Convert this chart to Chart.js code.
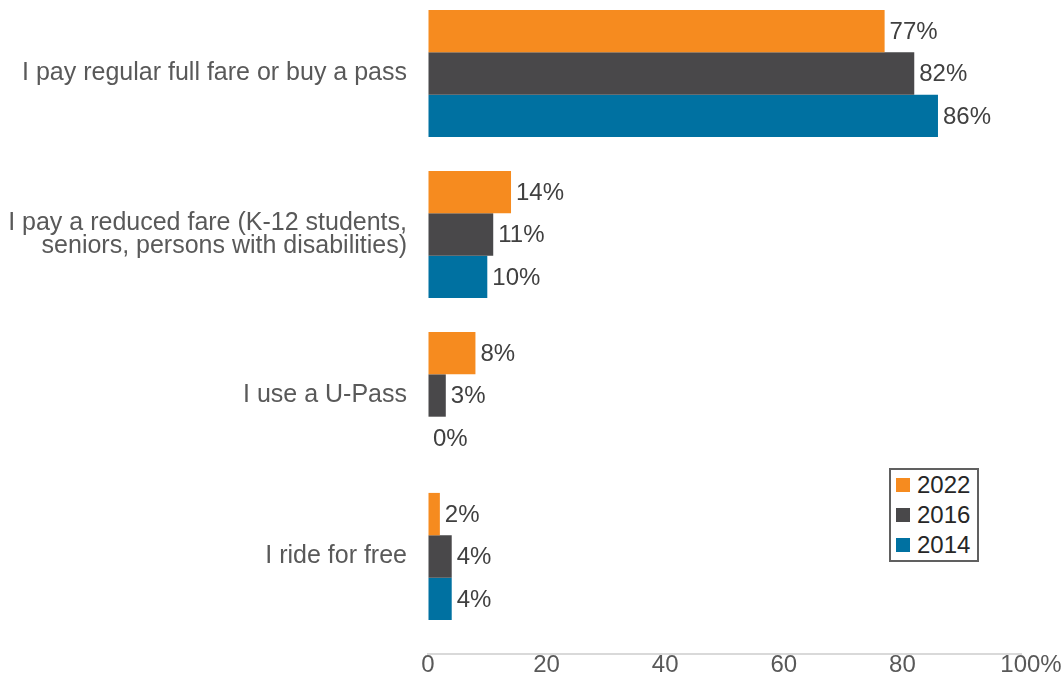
<!DOCTYPE html>
<html>
<head>
<meta charset="utf-8">
<script src="https://cdn.jsdelivr.net/npm/chart.js@4"></script>
<style>
  html, body { margin: 0; padding: 0; background: #fff; }
  #wrap { position: relative; width: 1064px; height: 687px; }
  #legend { position: absolute; left: 889px; top: 468px; width: 86px; height: 90px;
    border: 2px solid #606060; background: #fff; font-family: "Liberation Sans", Arial, sans-serif;
    font-size: 24px; color: #262626; }
  .row { height: 30px; display: flex; align-items: center; padding-left: 5px; }
  .sw { width: 14px; height: 14px; margin-right: 7px; }
</style>
</head>
<body>
<div id="wrap">
  <canvas id="c" width="1064" height="687"></canvas>
  <div id="legend"></div>
</div>
<script>
const categories = [
  'I pay regular full fare or buy a pass',
  ['I pay a reduced fare (K-12 students,', 'seniors, persons with disabilities)'],
  'I use a U-Pass',
  'I ride for free'
];
const seriesNames = ['2022', '2016', '2014'];
const values2022 = [77, 14, 8, 2];
const values2016 = [82, 11, 3, 4];
const values2014 = [86, 10, 0, 4];
const xTicks = [0, 20, 40, 60, 80, 100];
const colors = ['#F68B1F', '#49484A', '#0071A1'];

const seriesValues = [values2022, values2016, values2014];
const FONT = '"Liberation Sans", Arial, sans-serif';

const datasets = seriesNames.map((name, i) => ({
  label: name,
  data: seriesValues[i].map((v, j) => ({ x: v, y: j })),
  backgroundColor: colors[i],
  borderWidth: 0,
  categoryPercentage: 0.79,
  barPercentage: 1.0
}));

const valueLabels = {
  id: 'valueLabels',
  afterDatasetsDraw(chart) {
    const ctx = chart.ctx;
    ctx.save();
    ctx.font = '24px ' + FONT;
    ctx.fillStyle = '#404040';
    ctx.textAlign = 'left';
    ctx.textBaseline = 'middle';
    chart.data.datasets.forEach((ds, di) => {
      const meta = chart.getDatasetMeta(di);
      meta.data.forEach((bar, j) => {
        ctx.fillText(ds.data[j].x + '%', bar.x + 5, bar.y + 1);
      });
    });
    ctx.restore();
  }
};

new Chart(document.getElementById('c'), {
  type: 'bar',
  data: { datasets },
  options: {
    indexAxis: 'y',
    responsive: false,
    animation: false,
    layout: { padding: { left: 0, right: 43, top: 0, bottom: 0 } },
    plugins: { legend: { display: false }, tooltip: { enabled: false } },
    scales: {
      y: {
        type: 'linear',
        reverse: true,
        offset: false,
        min: -0.5 + 7 / 161,
        max: -0.5 + 7 / 161 + 654 / 161,
        grid: { display: false, offset: false },
        border: { display: false },
        ticks: {
          stepSize: 1,
          includeBounds: false,
          padding: 13,
          color: '#595959',
          font: { family: FONT, size: 25, lineHeight: 0.92 },
          callback: (v) => categories[v]
        },
        afterFit: (s) => { s.width = 428; s.paddingTop = 0; s.paddingBottom = 0; }
      },
      x: {
        type: 'linear',
        min: 0,
        max: 100,
        afterBuildTicks: (s) => { s.ticks = xTicks.map(v => ({ value: v })); },
        grid: { display: true, drawOnChartArea: false, drawTicks: false, color: '#D9D9D9' },
        border: { display: true, color: '#D9D9D9', width: 2 },
        ticks: {
          padding: -3,
          color: '#595959',
          font: { family: FONT, size: 24 },
          callback: (v) => v === 100 ? '   100%' : String(v)
        },
        afterFit: (s) => { s.height = 33; }
      }
    }
  },
  plugins: [valueLabels]
});

const legend = document.getElementById('legend');
seriesNames.forEach((name, i) => {
  const row = document.createElement('div');
  row.className = 'row';
  const sw = document.createElement('div');
  sw.className = 'sw';
  sw.style.background = colors[i];
  const t = document.createElement('span');
  t.textContent = name;
  row.appendChild(sw);
  row.appendChild(t);
  legend.appendChild(row);
});
</script>
</body>
</html>
